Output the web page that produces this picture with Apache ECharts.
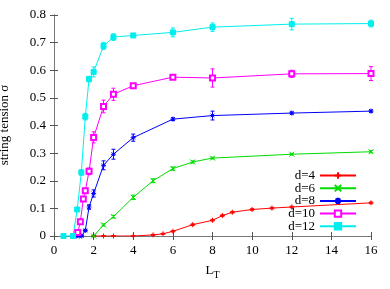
<!DOCTYPE html>
<html><head><meta charset="utf-8">
<script src="https://cdn.jsdelivr.net/npm/echarts@6/dist/echarts.min.js"></script>
<style>html,body{margin:0;padding:0;background:#fff}#c{width:390px;height:289px}</style>
</head><body><div id="c"></div>
<script>
// ---- data ----
const seriesNames = ['d=4', 'd=6', 'd=8', 'd=10', 'd=12'];
const xTickLabels = ['0', '2', '4', '6', '8', '10', '12', '14', '16'];
const yTickLabels = ['0', '0.1', '0.2', '0.3', '0.4', '0.5', '0.6', '0.7', '0.8'];

const d4_x = [2, 2.5, 3, 4, 5, 5.5, 6, 7, 8, 8.5, 9, 10, 11, 12, 16];
const d4_y = [0, 0, 0, 0, 0.004, 0.008, 0.017, 0.041, 0.057, 0.074, 0.086, 0.096, 0.101, 0.105, 0.12];
const d4_e = [0.001, 0.001, 0.001, 0.001, 0.002, 0.002, 0.002, 0.003, 0.003, 0.003, 0.003, 0.003, 0.003, 0.003, 0.003];

const d6_x = [2, 2.5, 3, 4, 5, 6, 7, 8, 12, 16];
const d6_y = [0, 0.04, 0.07, 0.14, 0.2, 0.244, 0.268, 0.282, 0.296, 0.305];
const d6_e = [0.002, 0.004, 0.005, 0.008, 0.007, 0.006, 0.004, 0.003, 0.003, 0.004];

const d8_x = [1.12, 1.27, 1.4, 1.58, 1.77, 2, 2.5, 3, 4, 6, 8, 12, 16];
const d8_y = [0, 0, 0, 0.02, 0.105, 0.154, 0.256, 0.296, 0.356, 0.423, 0.436, 0.445, 0.452];
const d8_e = [0.002, 0.002, 0.002, 0.004, 0.008, 0.013, 0.016, 0.018, 0.013, 0.005, 0.016, 0.004, 0.004];

const d10_x = [1.2, 1.33, 1.48, 1.58, 1.77, 2, 2.5, 3, 4, 6, 8, 12, 16];
const d10_y = [0.013, 0.052, 0.134, 0.164, 0.234, 0.357, 0.469, 0.513, 0.544, 0.575, 0.572, 0.587, 0.588];
const d10_e = [0.004, 0.006, 0.008, 0.008, 0.012, 0.02, 0.023, 0.022, 0.007, 0.006, 0.033, 0.013, 0.025];

const d12_x = [0.48, 0.96, 1.17, 1.38, 1.58, 1.77, 2, 2.5, 3, 4, 6, 8, 12, 16];
const d12_y = [0, 0, 0.096, 0.23, 0.432, 0.568, 0.594, 0.688, 0.72, 0.726, 0.737, 0.756, 0.767, 0.769];
const d12_e = [0.002, 0.002, 0.006, 0.01, 0.012, 0.01, 0.018, 0.013, 0.012, 0.006, 0.016, 0.015, 0.021, 0.012];

// ---- styling ----
const colors = ['#ff0000', '#00dd00', '#0000ff', '#ff00ff', '#00eeee'];
const symbols = [
  'path://M0,3H6M3,0V6',
  'path://M0,0L6,6M6,0L0,6',
  'path://M0,3H6M3,0V6M0.8,0.8L5.2,5.2M5.2,0.8L0.8,5.2',
  'emptyRect',
  'rect'
];
const symbolSizes = [5, 5, 5, 5, 5];
const FONT = 'Liberation Serif';

const groups = [
  [d4_x, d4_y, d4_e], [d6_x, d6_y, d6_e], [d8_x, d8_y, d8_e],
  [d10_x, d10_y, d10_e], [d12_x, d12_y, d12_e]
];

const series = [];
groups.forEach((g, i) => {
  const [xs, ys, es] = g;
  const col = colors[i];
  series.push({
    type: 'custom',
    name: seriesNames[i] + '_err',
    silent: true,
    z: 2,
    data: xs.map((x, k) => [x, ys[k] - es[k], ys[k] + es[k]]),
    encode: { x: 0, y: [1, 2] },
    renderItem: function (params, api) {
      const lo = api.coord([api.value(0), api.value(1)]);
      const hi = api.coord([api.value(0), api.value(2)]);
      const w = 2;
      const st = { stroke: col, lineWidth: 1 };
      return {
        type: 'group',
        children: [
          { type: 'line', shape: { x1: lo[0], y1: lo[1], x2: hi[0], y2: hi[1] }, style: st },
          { type: 'line', shape: { x1: lo[0] - w, y1: lo[1], x2: lo[0] + w, y2: lo[1] }, style: st },
          { type: 'line', shape: { x1: hi[0] - w, y1: hi[1], x2: hi[0] + w, y2: hi[1] }, style: st }
        ]
      };
    }
  });
  series.push({
    type: 'line',
    name: seriesNames[i],
    z: 3,
    data: xs.map((x, k) => [x, ys[k]]),
    symbol: symbols[i],
    symbolSize: symbolSizes[i],
    showAllSymbol: true,
    color: col,
    lineStyle: { color: col, width: 1 },
    itemStyle: { color: col, borderColor: col, borderWidth: 1 },
    emphasis: { disabled: true },
    animation: false
  });
});

const legendRight = 33, legendTop = 169, legendW = 36;

const axisLineStyle = { color: '#777', width: 1 };
const chart = echarts.init(document.getElementById('c'), null, { renderer: 'canvas' });
chart.setOption({
  animation: false,
  backgroundColor: '#fff',
  textStyle: { fontFamily: FONT },
  grid: { left: 54, right: 19, top: 15, bottom: 53 },
  legend: {
    data: seriesNames,
    orient: 'vertical',
    align: 'right',
    right: legendRight,
    top: legendTop,
    itemWidth: legendW,
    itemHeight: 8,
    itemGap: -0.3,
    padding: 0,
    textStyle: { fontFamily: FONT, fontSize: 13, lineHeight: 11, color: '#000' },
    selectedMode: false
  },
  graphic: [{
    type: 'text', silent: true,
    x: 5, y: 125, rotation: Math.PI / 2,
    style: { text: 'string tension σ', fontFamily: FONT, fontSize: 13, fill: '#000',
      align: 'center', verticalAlign: 'middle' }
  }],
  xAxis: [{
    type: 'value', min: 0, max: 16, interval: 2,
    axisLine: { show: true, lineStyle: axisLineStyle },
    axisTick: { show: true, inside: true, length: 4, lineStyle: { color: '#555' } },
    splitLine: { show: false },
    axisLabel: {
      fontFamily: FONT, fontSize: 13, color: '#000', margin: 8,
      formatter: (v) => xTickLabels[Math.round(v / 2)]
    },
    name: '{l|L}{s|T}',
    nameLocation: 'middle',
    nameGap: 26,
    nameTextStyle: {
      rich: {
        l: { fontFamily: FONT, fontSize: 13, color: '#000' },
        s: { fontFamily: FONT, fontSize: 10, color: '#000', padding: [8, 0, 0, 0] }
      }
    }
  }, {
    type: 'value', min: 0, max: 16, interval: 2, position: 'top',
    axisLine: { show: true, lineStyle: axisLineStyle },
    axisTick: { show: true, inside: true, length: 4, lineStyle: { color: '#555' } },
    splitLine: { show: false },
    axisLabel: { show: false }
  }],
  yAxis: [{
    type: 'value', min: 0, max: 0.8, interval: 0.1,
    axisLine: { show: true, lineStyle: axisLineStyle },
    axisTick: { show: true, inside: true, length: 4, lineStyle: { color: '#555' } },
    splitLine: { show: false },
    axisLabel: {
      fontFamily: FONT, fontSize: 13, color: '#000', margin: 8,
      formatter: (v) => yTickLabels[Math.round(v * 10)]
    }
  }, {
    type: 'value', min: 0, max: 0.8, interval: 0.1, position: 'right',
    axisLine: { show: true, lineStyle: axisLineStyle },
    axisTick: { show: true, inside: true, length: 4, lineStyle: { color: '#555' } },
    splitLine: { show: false },
    axisLabel: { show: false }
  }],
  series: series
});
</script></body></html>
